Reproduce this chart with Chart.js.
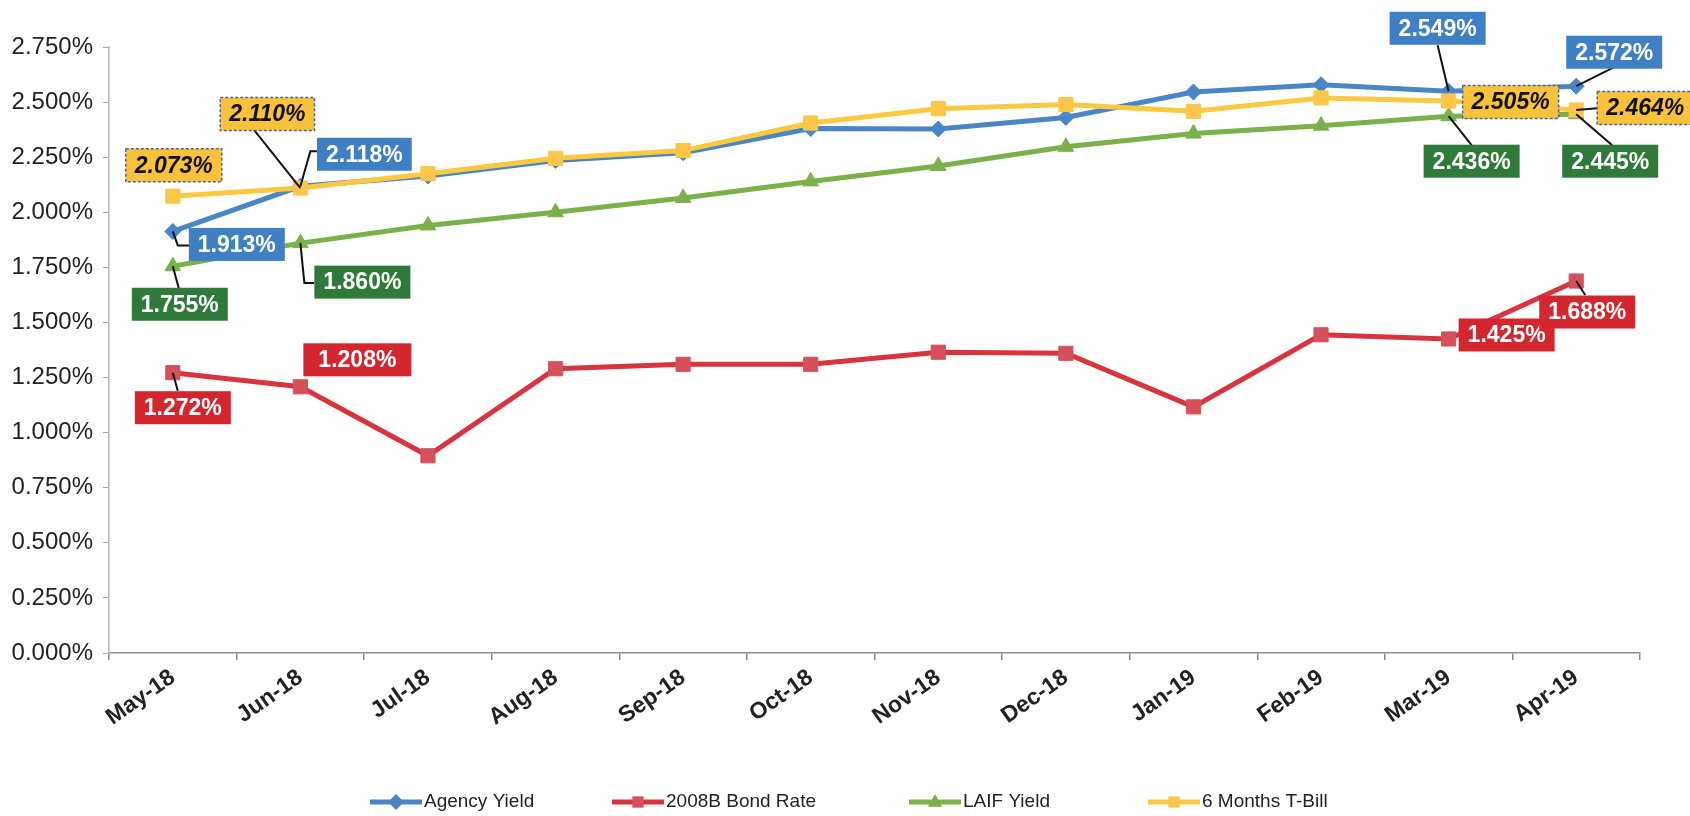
<!DOCTYPE html>
<html>
<head>
<meta charset="utf-8">
<script src="https://cdn.jsdelivr.net/npm/chart.js@4.4.1/dist/chart.umd.min.js"></script>
<style>
  html, body { margin: 0; padding: 0; background: #ffffff; }
  #wrap { width: 1690px; height: 816px; }
</style>
</head>
<body>
<div id="wrap"><canvas id="c" width="1690" height="816"></canvas></div>
<script>
// ---------------- data ----------------
const categories = ['May-18','Jun-18','Jul-18','Aug-18','Sep-18','Oct-18','Nov-18','Dec-18','Jan-19','Feb-19','Mar-19','Apr-19'];
const agencyYield = [1.913, 2.118, 2.165, 2.235, 2.270, 2.380, 2.378, 2.430, 2.546, 2.579, 2.549, 2.572];
const bondRate    = [1.272, 1.208, 0.895, 1.290, 1.310, 1.310, 1.365, 1.360, 1.117, 1.444, 1.425, 1.688];
const laifYield   = [1.755, 1.860, 1.940, 2.000, 2.065, 2.140, 2.210, 2.297, 2.357, 2.393, 2.436, 2.445];
const tBill       = [2.073, 2.110, 2.175, 2.245, 2.280, 2.405, 2.470, 2.489, 2.458, 2.519, 2.505, 2.464];
const seriesNames = ['Agency Yield', '2008B Bond Rate', 'LAIF Yield', '6 Months T-Bill'];
const yMin = 0, yMax = 2.75, yStep = 0.25;

// ---------------- styles / layout ----------------
const FONT = '"Liberation Sans", Arial, sans-serif';
const colors = ['#4a86c6', '#d8343d', '#7bb14a', '#fbc93f'];
const pointFill = ['#4a86c6', '#d4505a', '#7bb14a', '#fbc64a'];
const pointStyles = ['rectRot', 'rect', 'triangle', 'rect'];
const pointRadii = [8, 10, 9, 10];

const labelStyle = [
  { fill: '#3f80c4', text: '#ffffff', font: 'bold 23px ' + FONT, border: null },
  { fill: '#d3262f', text: '#ffffff', font: 'bold 23px ' + FONT, border: null },
  { fill: '#2f7a3a', text: '#ffffff', font: 'bold 23px ' + FONT, border: null },
  { fill: '#f9c23c', text: '#111111', font: 'bold italic 23px ' + FONT, border: '#4f6490' }
];
// which point gets a label, where its box sits relative to the point, and its leader line
const labelLayout = [
  { ds: 0, i: 0,  dx: 64,  dy: 13,  leader: [[5, 14], [17, 14]] },
  { ds: 0, i: 1,  dx: 64,  dy: -32, leader: [[10, -35], [18, -35]] },
  { ds: 0, i: 10, dx: -11, dy: -63, leader: [[-11, -46]] },
  { ds: 0, i: 11, dx: 38,  dy: -34, leader: [[38, -19]] },
  { ds: 1, i: 0,  dx: 10,  dy: 35,  leader: [[5, 18]] },
  { ds: 1, i: 1,  dx: 57,  dy: -27, leader: null, extra: 12 },
  { ds: 1, i: 10, dx: 58,  dy: -4,  leader: null },
  { ds: 1, i: 11, dx: 11,  dy: 31,  leader: [[9, 14]] },
  { ds: 2, i: 0,  dx: 7,   dy: 38,  leader: [[6, 22]] },
  { ds: 2, i: 1,  dx: 62,  dy: 39,  leader: [[4, 40], [14, 40]] },
  { ds: 2, i: 10, dx: 23,  dy: 45,  leader: [[23, 29]] },
  { ds: 2, i: 11, dx: 34,  dy: 47,  leader: [[36, 31]] },
  { ds: 3, i: 0,  dx: 1,   dy: -31, leader: null },
  { ds: 3, i: 1,  dx: -33, dy: -74, leader: [[-47, -59]] },
  { ds: 3, i: 10, dx: 62,  dy: 1,   leader: null },
  { ds: 3, i: 11, dx: 69,  dy: -2,  leader: [[24, -2]] }
];
const legendStarts = [370, 612, 909, 1148];
const legendY = 802;

function drawMarker(ctx, style, x, y, r, fill) {
  ctx.save();
  ctx.fillStyle = fill;
  ctx.beginPath();
  if (style === 'rectRot') {
    ctx.moveTo(x, y - r); ctx.lineTo(x + r, y); ctx.lineTo(x, y + r); ctx.lineTo(x - r, y); ctx.closePath();
  } else if (style === 'triangle') {
    ctx.moveTo(x, y - r); ctx.lineTo(x + r * 0.9, y + r * 0.6); ctx.lineTo(x - r * 0.9, y + r * 0.6); ctx.closePath();
  } else {
    const s = r * Math.SQRT1_2;
    ctx.rect(x - s, y - s, 2 * s, 2 * s);
  }
  ctx.fill();
  ctx.restore();
}

const valueLabels = {
  id: 'valueLabels',
  afterDatasetsDraw(chart) {
    const ctx = chart.ctx;
    ctx.save();
    ctx.strokeStyle = '#111';
    ctx.lineWidth = 2;
    labelLayout.forEach(l => {
      if (!l.leader) return;
      const pt = chart.getDatasetMeta(l.ds).data[l.i];
      ctx.beginPath();
      ctx.moveTo(pt.x, pt.y);
      l.leader.forEach(([x, y]) => ctx.lineTo(pt.x + x, pt.y + y));
      ctx.stroke();
    });
    labelLayout.forEach(l => {
      const pt = chart.getDatasetMeta(l.ds).data[l.i];
      const v = chart.data.datasets[l.ds].data[l.i];
      const st = labelStyle[l.ds];
      const txt = v.toFixed(3) + '%';
      ctx.font = st.font;
      const w = ctx.measureText(txt).width + 18 + (l.extra || 0);
      const h = 33;
      const cx = pt.x + l.dx, cy = pt.y + l.dy;
      ctx.fillStyle = st.fill;
      ctx.fillRect(cx - w / 2, cy - h / 2, w, h);
      if (st.border) {
        ctx.setLineDash([3, 2]);
        ctx.strokeStyle = st.border;
        ctx.lineWidth = 1.5;
        ctx.strokeRect(cx - w / 2, cy - h / 2, w, h);
        ctx.setLineDash([]);
      }
      ctx.fillStyle = st.text;
      ctx.textAlign = 'center';
      ctx.textBaseline = 'middle';
      ctx.fillText(txt, cx, cy + 1);
    });
    ctx.restore();
  },
  afterDraw(chart) {
    const ctx = chart.ctx;
    ctx.save();
    ctx.font = '19px ' + FONT;
    ctx.textBaseline = 'middle';
    ctx.textAlign = 'left';
    chart.data.datasets.forEach((ds, k) => {
      const x0 = legendStarts[k];
      ctx.strokeStyle = colors[k];
      ctx.lineWidth = 5;
      ctx.beginPath();
      ctx.moveTo(x0, legendY);
      ctx.lineTo(x0 + 52, legendY);
      ctx.stroke();
      drawMarker(ctx, pointStyles[k], x0 + 26, legendY, 8, pointFill[k]);
      ctx.fillStyle = '#222';
      ctx.fillText(ds.label, x0 + 54, legendY);
    });
    ctx.restore();
  }
};

const seriesData = [agencyYield, bondRate, laifYield, tBill];
const datasets = seriesData.map((d, k) => ({
  label: seriesNames[k],
  data: d,
  borderColor: colors[k],
  backgroundColor: pointFill[k],
  pointBackgroundColor: pointFill[k],
  pointBorderColor: pointFill[k],
  pointBorderWidth: 1,
  pointStyle: pointStyles[k],
  pointRadius: pointRadii[k],
  borderWidth: 5,
  tension: 0,
  fill: false,
  order: 4 - k
}));

new Chart(document.getElementById('c'), {
  type: 'line',
  data: { labels: categories, datasets },
  plugins: [valueLabels],
  options: {
    responsive: false,
    devicePixelRatio: 1,
    animation: false,
    layout: { padding: { top: 47, right: 50, left: 0, bottom: 0 } },
    plugins: { legend: { display: false }, tooltip: { enabled: false } },
    scales: {
      x: {
        type: 'category',
        offset: true,
        grid: { offset: true, drawOnChartArea: false, drawTicks: true, tickLength: 7, color: '#8a8a8a', lineWidth: 1.5 },
        border: { color: '#8b90a0', width: 1.5 },
        ticks: { minRotation: 35, maxRotation: 35, autoSkip: false, color: '#222', padding: 4,
                 font: { family: FONT, size: 23, weight: 'bold' } },
        afterFit(s) { s.height = 163; }
      },
      y: {
        min: yMin, max: yMax,
        ticks: { stepSize: yStep, color: '#222', padding: 10,
                 font: { family: FONT, size: 24 },
                 callback: v => Number(v).toFixed(3) + '%' },
        grid: { drawOnChartArea: false, drawTicks: true, tickLength: 6, color: '#aaaaaa' },
        border: { color: '#b5b5b5', width: 1.5 },
        afterFit(s) { s.width = 109; }
      }
    }
  }
});
</script>
</body>
</html>
